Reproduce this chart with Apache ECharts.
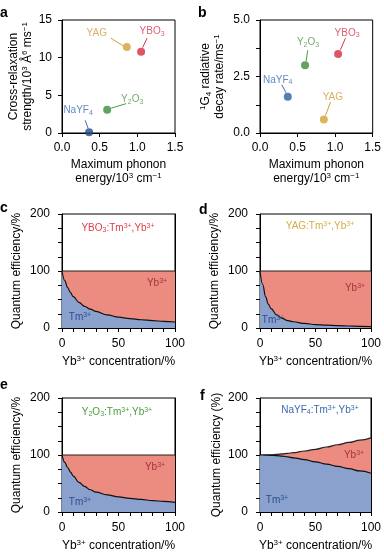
<!DOCTYPE html>
<html>
<head>
<meta charset="utf-8">
<script src="https://cdn.jsdelivr.net/npm/echarts@6/dist/echarts.min.js"></script>
<style>html,body{margin:0;padding:0;background:#fff}#c{width:384px;height:559px}</style>
</head>
<body>
<div id="c"></div>
<script>
// ---------- data ----------
const hosts = ['NaYF4', 'Y2O3', 'YAG', 'YBO3'];
const hostRich = ['NaYF{sub|4}', 'Y{sub|2}O{sub|3}', 'YAG', 'YBO{sub|3}'];
const phononA = [0.36, 0.60, 0.86, 1.05];
const crossRelax = [0.1, 3.1, 11.4, 10.8];
const phononB = [0.37, 0.60, 0.85, 1.04];
const decayRate = [1.6, 3.0, 0.6, 3.5];

const ybConc = [0, 2.5, 5, 7.5, 10, 15, 20, 25, 30, 40, 50, 60, 70, 80, 90, 100];
const tmYBO3 = [100, 83, 71, 62, 55, 45, 38, 33, 29, 23, 19, 16.5, 14.5, 13, 11.5, 10.5];
const totYBO3 = [100, 100, 100, 100, 100, 100, 100, 100, 100, 100, 100, 100, 100, 100, 100, 100];
const tmYAG = [100, 76, 55, 42, 34, 23, 17, 13, 11, 8, 6, 5, 4, 3.5, 3, 2.5];
const totYAG = [100, 100, 100, 100, 100, 100, 100, 100, 100, 100, 100, 100, 100, 100, 100, 100];
const tmY2O3 = [100, 87, 78, 70, 63, 52, 45, 39, 35, 30, 26.5, 24, 22, 20, 18.5, 17];
const totY2O3 = [100, 100, 100, 100, 100, 100, 100, 100, 100, 100, 100, 100, 100, 100, 100, 100];
const tmNaYF4 = [100, 100, 99.8, 99.6, 99.4, 98.8, 98, 96.8, 95, 92, 88, 84, 80, 76, 72, 68];
const totNaYF4 = [100, 100, 100, 100.2, 100.4, 101, 102, 103, 104, 107, 110, 114, 118, 122, 126, 130];

// ---------- style ----------
const FONT = '"Liberation Sans", Arial, Helvetica, sans-serif';
const markerColA = ['#1f4a8a', '#3d8b3d', '#d2a236', '#d62a3c'];
const markerColB = ['#2c5fa8', '#3d8b3d', '#d2a236', '#d62a3c'];
const labelCol = ['#3d6bb3', '#4d9a45', '#c9a13b', '#d8344a'];
const offA = [[-11, -22], [25, -10], [-30, -14], [11, -20]];
const offB = [[-10, -17], [3, -23], [9, -22], [9, -21]];
// leader line segments relative to marker centre: [x1, y1, x2, y2]
const leadA = [[-4, -12, -1, -4], [19, -6, 4, -1.5], [-16, -9, -4, -1.5], [6, -13.5, 1.5, -4]];
const leadB = [[-6, -12, -1.7, -4], [2.7, -15, 1, -4], [6.7, -17.3, 1.7, -4], [7.3, -15.7, 2.3, -4]];
const BLUE = '#8aa1cd', RED = '#ec8b80';

const supRich = {
  sup: { fontSize: 8, verticalAlign: 'top', padding: [0, 0, 4, 0], fontFamily: FONT },
  sub: { fontSize: 8, verticalAlign: 'bottom', padding: [4, 0, 0, 0], fontFamily: FONT }
};
const smallRich = {
  sup: { fontSize: 7, verticalAlign: 'top', padding: [0, 0, 4, 0], fontFamily: FONT },
  sub: { fontSize: 7, verticalAlign: 'bottom', padding: [4, 0, 0, 0], fontFamily: FONT }
};

const grids = [
  { left: 62, top: 20, width: 113, height: 113 },
  { left: 260, top: 20, width: 115, height: 113 },
  { left: 62, top: 214, width: 113, height: 114 },
  { left: 260, top: 214, width: 113, height: 114 },
  { left: 62, top: 398, width: 113, height: 114 },
  { left: 260, top: 398, width: 113, height: 114 }
].map(g => Object.assign({ show: true, borderColor: '#000', borderWidth: 1 }, g));

const axLine = { show: true, lineStyle: { color: '#000', width: 1 } };
const axTick = { show: true, length: 4, lineStyle: { color: '#000', width: 1 } };
const axLab = (m) => ({ color: '#000', fontSize: 12, fontFamily: FONT, margin: m });
const nameStyle = { color: '#000', fontSize: 12, fontFamily: FONT, lineHeight: 14, rich: supRich };

const xAxes = [], yAxes = [];
// a
xAxes.push({ gridIndex: 0, type: 'value', min: 0, max: 1.5, interval: 0.5,
  axisLabel: Object.assign(axLab(9), { formatter: v => v.toFixed(1) }),
  axisLine: axLine, axisTick: axTick, splitLine: { show: false },
  name: 'Maximum phonon\nenergy/10{sup|3} cm{sup|−1}', nameLocation: 'middle', nameGap: 25, nameTextStyle: nameStyle });
yAxes.push({ gridIndex: 0, type: 'value', min: 0, max: 15, interval: 5,
  axisLabel: axLab(10), axisLine: axLine, axisTick: axTick, splitLine: { show: false },
  name: 'Cross-relaxation\nstrength/10{sup|3} Å{sup|6} ms{sup|−1}', nameLocation: 'middle', nameRotate: 90, nameGap: 27, nameTextStyle: nameStyle });
// b
xAxes.push({ gridIndex: 1, type: 'value', min: 0, max: 1.5, interval: 0.5,
  axisLabel: Object.assign(axLab(9), { formatter: v => v.toFixed(1) }),
  axisLine: axLine, axisTick: axTick, splitLine: { show: false },
  name: 'Maximum phonon\nenergy/10{sup|3} cm{sup|−1}', nameLocation: 'middle', nameGap: 25, nameTextStyle: nameStyle });
yAxes.push({ gridIndex: 1, type: 'value', min: 0, max: 5, interval: 2.5,
  axisLabel: Object.assign(axLab(10), { formatter: v => v.toFixed(1) }),
  axisLine: axLine, axisTick: axTick, splitLine: { show: false },
  minorTick: { show: true, splitNumber: 2, length: 4, lineStyle: { color: '#000' } },
  name: '{sup|1}G{sub|4} radiative\ndecay rate/ms{sup|−1}', nameLocation: 'middle', nameRotate: 90, nameGap: 33, nameTextStyle: nameStyle });

const qeNames = ['Quantum efficiency/%', 'Quantum efficiency/%', 'Quantum efficiency/%', 'Quantum efficiency (%)'];
const qeGaps = [38, 38, 38, 36];
for (let i = 0; i < 4; i++) {
  const gi = i + 2;
  xAxes.push({ gridIndex: gi, type: 'value', min: 0, max: 100, interval: 50,
    axisLabel: axLab(10), axisLine: axLine, axisTick: axTick, splitLine: { show: false },
    minorTick: { show: true, splitNumber: 5, length: 4, lineStyle: { color: '#000' } },
    name: 'Yb{sup|3+} concentration/%', nameLocation: 'middle', nameGap: 27, nameTextStyle: nameStyle });
  yAxes.push({ gridIndex: gi, type: 'value', min: 0, max: 200, interval: 100,
    axisLabel: axLab(12), axisLine: axLine, axisTick: axTick, splitLine: { show: false },
    minorTick: { show: true, splitNumber: 4, length: 4, lineStyle: { color: '#000' } },
    name: qeNames[i], nameLocation: 'middle', nameRotate: 90, nameGap: qeGaps[i], nameTextStyle: nameStyle });
}
// right-side border axes for c-f (drawn above the areas)
for (let i = 0; i < 4; i++) {
  yAxes.push({ gridIndex: i + 2, type: 'value', min: 0, max: 200, position: 'right',
    axisLine: axLine, axisTick: { show: false }, axisLabel: { show: false }, splitLine: { show: false } });
}

const series = [];
function scatterPanel(gi, xs, ys, cols, offs) {
  series.push({
    type: 'scatter', xAxisIndex: gi, yAxisIndex: gi, symbolSize: 8, z: 5,
    data: xs.map((x, k) => ({ value: [x, ys[k]], name: hosts[k], itemStyle: { color: cols[k] },
      label: { color: labelCol[k] } })),
    label: { show: true, position: 'top', distance: 0, fontSize: 10, fontFamily: FONT, lineHeight: 12,
      formatter: p => hostRich[p.dataIndex], rich: smallRich },
    labelLayout: p => ({
      x: p.rect.x + p.rect.width / 2 + offs[p.dataIndex][0],
      y: p.rect.y + p.rect.height / 2 + offs[p.dataIndex][1],
      align: 'center', verticalAlign: 'middle'
    })
  });
}
scatterPanel(0, phononA, crossRelax, markerColA, offA);
scatterPanel(1, phononB, decayRate, markerColB, offB);

function areaPanel(gi, tm, tot) {
  series.push({
    type: 'line', xAxisIndex: gi, yAxisIndex: gi, smooth: 0.4, smoothMonotone: 'x', symbol: 'none',
    data: ybConc.map((x, k) => [x, tot[k]]),
    lineStyle: { color: '#222', width: 1.2 }, areaStyle: { color: RED, opacity: 1 }, z: 2
  });
  series.push({
    type: 'line', xAxisIndex: gi, yAxisIndex: gi, smooth: 0.4, smoothMonotone: 'x', symbol: 'none',
    data: ybConc.map((x, k) => [x, tm[k]]),
    lineStyle: { color: '#111', width: 1.2 }, areaStyle: { color: BLUE, opacity: 1 }, z: 3
  });
}
areaPanel(2, tmYBO3, totYBO3);
areaPanel(3, tmYAG, totYAG);
areaPanel(4, tmY2O3, totY2O3);
areaPanel(5, tmNaYF4, totNaYF4);

function txt(x, y, text, opts) {
  return Object.assign({ type: 'text', x: x, y: y, z: 100,
    style: Object.assign({ text: text, fontFamily: FONT, fontSize: 10, fill: '#000', align: 'center', verticalAlign: 'middle', rich: smallRich }, opts || {}) });
}
const letter = { fontSize: 14, fontWeight: 'bold', align: 'left' };
const graphic = [
  txt(0, 13, 'a', letter), txt(198, 13, 'b', letter),
  txt(0, 208, 'c', letter), txt(199, 210, 'd', letter),
  txt(0, 385, 'e', letter), txt(200, 396, 'f', letter),
  txt(118, 228, 'YBO{sub|3}:Tm{sup|3+},Yb{sup|3+}', { fill: '#e23c4c' }),
  txt(320, 226, 'YAG:Tm{sup|3+},Yb{sup|3+}', { fill: '#d8ab45' }),
  txt(117, 412, 'Y{sub|2}O{sub|3}:Tm{sup|3+},Yb{sup|3+}', { fill: '#4f9b3b' }),
  txt(320, 410, 'NaYF{sub|4}:Tm{sup|3+},Yb{sup|3+}', { fill: '#3b69b0' }),
  txt(157, 283, 'Yb{sup|3+}', { fill: '#a8323c' }),
  txt(80, 317, 'Tm{sup|3+}', { fill: '#2c4c8e' }),
  txt(355, 288, 'Yb{sup|3+}', { fill: '#a8323c' }),
  txt(273, 320, 'Tm{sup|3+}', { fill: '#2c4c8e' }),
  txt(155, 467, 'Yb{sup|3+}', { fill: '#a8323c' }),
  txt(80, 502, 'Tm{sup|3+}', { fill: '#2c4c8e' }),
  txt(354, 455, 'Yb{sup|3+}', { fill: '#a8323c' }),
  txt(277, 500, 'Tm{sup|3+}', { fill: '#2c4c8e' })
];

const chart = echarts.init(document.getElementById('c'), null, { renderer: 'canvas' });
chart.setOption({
  animation: false,
  backgroundColor: '#fff',
  textStyle: { fontFamily: FONT },
  grid: grids, xAxis: xAxes, yAxis: yAxes, series: series
});

// leader lines anchored to the marker positions computed by the axes
function leaders(gi, xs, ys, leads) {
  return xs.map((x, k) => {
    const p = chart.convertToPixel({ gridIndex: gi }, [x, ys[k]]);
    const L = leads[k];
    return { type: 'line', z: 50,
      shape: { x1: p[0] + L[0], y1: p[1] + L[1], x2: p[0] + L[2], y2: p[1] + L[3] },
      style: { stroke: labelCol[k], lineWidth: 1 } };
  });
}
chart.setOption({
  graphic: graphic.concat(leaders(0, phononA, crossRelax, leadA), leaders(1, phononB, decayRate, leadB))
});
</script>
</body>
</html>
